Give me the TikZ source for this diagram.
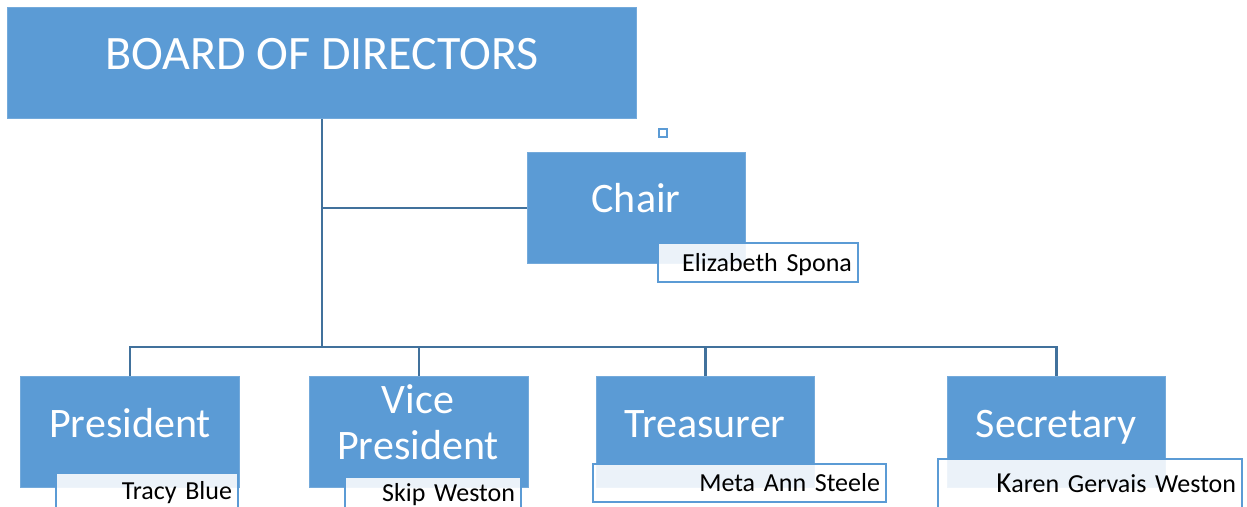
\documentclass[tikz,border=0pt]{standalone}
\usepackage{fontspec}
\setmainfont{Carlito}
\definecolor{boxblue}{HTML}{5B9BD5}
\definecolor{linkblue}{HTML}{41719C}
\begin{document}
\begin{tikzpicture}[x=1pt,y=-1pt,
  rolebox/.style={fill=boxblue, draw=boxblue!85!white, line width=0.8pt, anchor=north west, inner sep=0pt},
  roletext/.style={text=white, inner sep=0pt, text height=27pt, text depth=0pt, font=\fontsize{42}{46}\selectfont},
  namebox/.style={draw=boxblue, line width=2pt, fill=white, fill opacity=0.88, text opacity=1, text=black,
    anchor=north west, inner xsep=6pt, inner ysep=0pt, align=right,
    font=\fontsize{26}{30}\selectfont, text height=17pt, text depth=0pt},
  conn/.style={draw=linkblue, line width=2.6pt}]
\useasboundingbox (0,0) rectangle (1247,506);
% boxes
\node[rolebox, minimum width=629pt, minimum height=111pt] (board) at (7,7) {};
\node[rolebox, minimum width=218pt, minimum height=111pt] (chair) at (527,152) {};
\node[rolebox, minimum width=219pt, minimum height=111pt] (pres) at (20,376) {};
\node[rolebox, minimum width=219pt, minimum height=111pt] (vp) at (309,376) {};
\node[rolebox, minimum width=218pt, minimum height=111pt] (treas) at (596,376) {};
\node[rolebox, minimum width=218pt, minimum height=111pt] (sec) at (947,376) {};
% connectors
\coordinate (bus) at (0,347);
\draw[conn] (board.south) -- (board.south |- bus);
\draw[conn] (board.south |- chair.west) -- (chair.west);
\draw[conn] (pres.north) -- (pres.north |- bus) -- (sec.north |- bus) -- (sec.north);
\draw[conn] (vp.north |- bus) -- (vp.north);
\draw[conn] (treas.north |- bus) -- (treas.north);
% handle
\node[draw=boxblue, line width=1.5pt, minimum size=8pt, inner sep=0pt] (handle) at (663,133) {};
% texts
\node[text=white, inner sep=0pt, text height=31pt, text depth=0pt, font=\fontsize{48}{50}\selectfont] (boardtxt) at (322,54) {BOARD OF DIRECTORS};
\node[roletext] (chairtxt) at (636,199) {Chair};
\node[roletext] (prestxt) at (130,424) {President};
\node[roletext] (vptxta) at (418,400) {Vice};
\node[roletext] (vptxtb) at (418,446) {President};
\node[roletext] (treastxt) at (705,424) {Treasurer};
\node[roletext] (sectxt) at (1056,424) {Secretary};
% name boxes
\node[namebox, text width=188pt, minimum height=39pt] (chairname) at (657,242) {Elizabeth Spona};
\node[namebox, text width=170pt, minimum height=36pt] (presname) at (55,472) {Tracy Blue};
\node[namebox, text width=164pt, minimum height=32pt] (vpname) at (344,476) {Skip Weston};
\node[namebox, text width=281pt, minimum height=38pt] (treasname) at (592,463) {Meta Ann Steele};
\node[namebox, text width=292pt, minimum height=50pt] (secname) at (937,458) {{\fontsize{29}{30}\selectfont K}aren Gervais Weston};
\end{tikzpicture}
\end{document}
